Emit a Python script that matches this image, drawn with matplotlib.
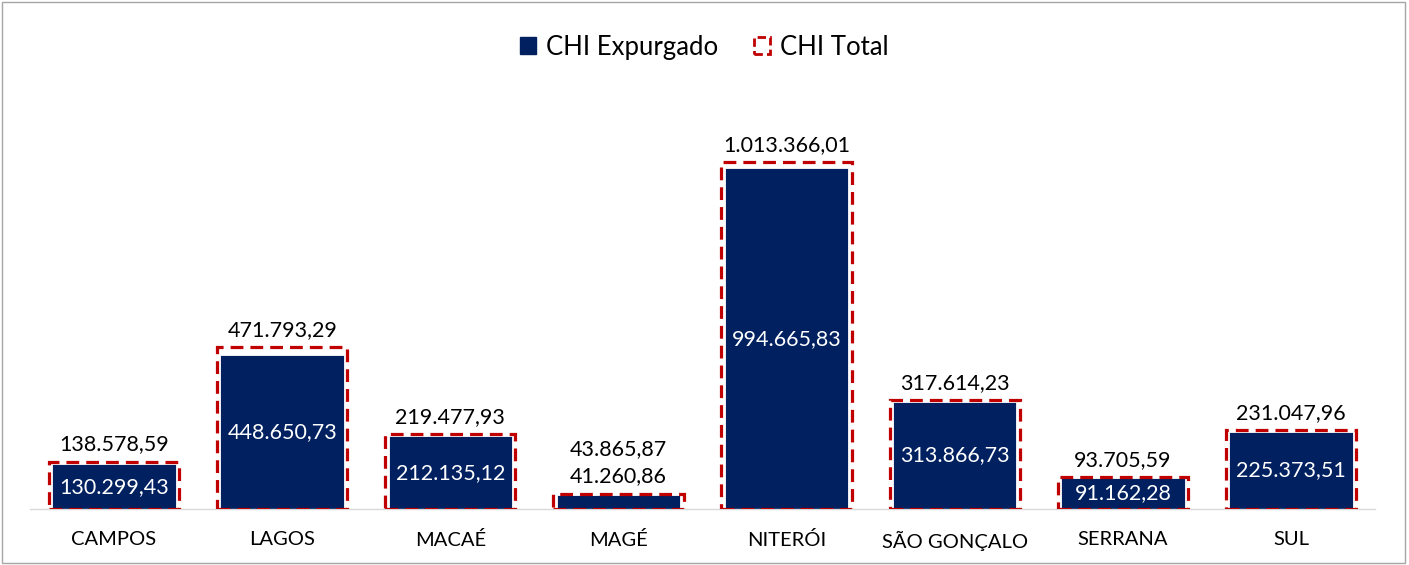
import matplotlib
matplotlib.use("Agg")
import matplotlib.pyplot as plt
from matplotlib.patches import Patch, Rectangle

categories = ["CAMPOS", "LAGOS", "MACAÉ", "MAGÉ", "NITERÓI", "SÃO GONÇALO", "SERRANA", "SUL"]
chi_total = [138578.59, 471793.29, 219477.93, 43865.87, 1013366.01, 317614.23, 93705.59, 231047.96]
chi_expurgado = [130299.43, 448650.73, 212135.12, 41260.86, 994665.83, 313866.73, 91162.28, 225373.51]

NAVY = "#002060"
RED = "#C00000"
FONT = "Lato"
VFS = 15.5

def fmt(v):
    s = f"{v:,.2f}"
    return s.replace(",", "X").replace(".", ",").replace("X", ".")

fig = plt.figure(figsize=(14.09, 5.65), dpi=100)
fig.patches.append(Rectangle((0.0015, 0.003), 0.996, 0.994, transform=fig.transFigure,
                             fill=False, edgecolor="#A6A6A6", linewidth=1.0, zorder=0))
ax = fig.add_axes([30 / 1409, 56 / 565, 1345 / 1409, 411 / 565])

x = list(range(len(categories)))
bars_e = ax.bar(x, chi_expurgado, width=0.735, color=NAVY, edgecolor="white", linewidth=0.6, zorder=2)
bars_t = ax.bar(x, chi_total, width=0.775, fill=False, edgecolor=RED, linewidth=2.3,
                linestyle=(0, (4, 2.2)), zorder=3)

ax.set_xlim(-0.5, len(categories) - 0.5)
ax.set_ylim(0, 1200000)
for s in ["top", "right", "left"]:
    ax.spines[s].set_visible(False)
ax.spines["bottom"].set_color("#D9D9D9")
ax.spines["bottom"].set_linewidth(1.0)
ax.set_yticks([])
ax.set_xticks(x)
ax.set_xticklabels(categories, fontsize=14.5, family=FONT, color="black")
ax.tick_params(axis="x", length=0, pad=16)

for i, (t, e) in enumerate(zip(chi_total, chi_expurgado)):
    if categories[i] == "MAGÉ":
        ax.annotate(fmt(e), (i, t), xytext=(0, 6), textcoords="offset points",
                    ha="center", va="bottom", fontsize=VFS, family=FONT, color="black")
        ax.annotate(fmt(t), (i, t), xytext=(0, 25), textcoords="offset points",
                    ha="center", va="bottom", fontsize=VFS, family=FONT, color="black")
    else:
        ax.annotate(fmt(t), (i, t), xytext=(0, 5), textcoords="offset points",
                    ha="center", va="bottom", fontsize=VFS, family=FONT, color="black")
        ax.text(i, e / 2, fmt(e), ha="center", va="center", fontsize=VFS, family=FONT, color="white")

handles = [Patch(facecolor=NAVY, edgecolor=NAVY, label="CHI Expurgado"),
           Patch(facecolor="none", edgecolor=RED, linewidth=2.0, linestyle=(0, (3, 1.5)), label="CHI Total")]
fig.legend(handles=handles, loc="center", bbox_to_anchor=(0.5, 1 - 47 / 565), ncol=2, frameon=False,
           prop={"family": FONT, "size": 18.5}, handlelength=0.6, handleheight=0.6, handletextpad=0.4,
           columnspacing=1.4)

fig.savefig("out.png", dpi=100)
